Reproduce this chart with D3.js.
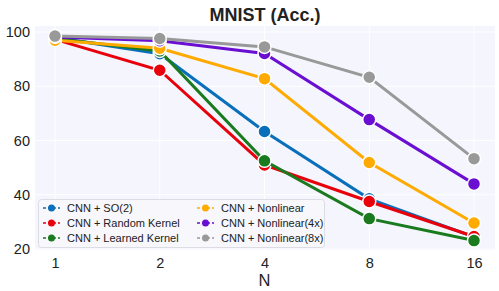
<!DOCTYPE html>
<html>
<head>
<meta charset="utf-8">
<script src="https://cdn.jsdelivr.net/npm/d3@7"></script>
<style>
body { margin: 0; background: #fff; }
svg { display: block; font-family: "Liberation Sans", Arial, sans-serif; }
</style>
</head>
<body>
<script>
const W = 499, H = 291
const nValues = [1, 2, 4, 8, 16]
const yTicks = [20, 40, 60, 80, 100]
const seriesNames = ["CNN + SO(2)", "CNN + Random Kernel", "CNN + Learned Kernel",
                     "CNN + Nonlinear", "CNN + Nonlinear(4x)", "CNN + Nonlinear(8x)"]
const so2 = [98.0, 92.0, 63.3, 38.5, 24.5]
const randomKernel = [97.3, 85.9, 51.0, 37.5, 24.6]
const learnedKernel = [97.6, 93.0, 52.5, 31.2, 23.1]
const nonlinear = [97.0, 94.0, 82.8, 51.9, 29.6]
const nonlinear4x = [98.2, 96.8, 92.1, 67.7, 44.0]
const nonlinear8x = [98.5, 97.6, 94.5, 83.3, 53.3]
const colors = ["#0a6fba", "#e8000b", "#1a7a1e", "#ffaa00", "#6a0fd2", "#999999"]

const allSeries = [so2, randomKernel, learnedKernel, nonlinear, nonlinear4x, nonlinear8x]

const plot = {left: 35, right: 495, top: 26, bottom: 250}

const svg = d3.select("body").append("svg")
    .attr("width", W)
    .attr("height", H)

const x = d3.scaleLog().base(2)
    .domain([1, 16])
    .range([55, 474])
const y = d3.scaleLinear()
    .domain([20, 100])
    .range([249, 32])

// background
svg.append("rect")
    .attr("x", plot.left)
    .attr("y", plot.top)
    .attr("width", plot.right - plot.left)
    .attr("height", plot.bottom - plot.top)
    .attr("fill", "#f4f5fd")

// grid
svg.append("g").selectAll("line").data(nValues).join("line")
    .attr("x1", d => x(d)).attr("x2", d => x(d))
    .attr("y1", plot.top).attr("y2", plot.bottom)
    .attr("stroke", "#fff").attr("stroke-width", 1)
svg.append("g").selectAll("line").data(yTicks).join("line")
    .attr("x1", plot.left).attr("x2", plot.right)
    .attr("y1", d => y(d)).attr("y2", d => y(d))
    .attr("stroke", "#fff").attr("stroke-width", 1)

// axes (labels only)
const xAxis = svg.append("g")
    .attr("transform", "translate(0," + plot.bottom + ")")
    .call(d3.axisBottom(x).tickValues(nValues).tickFormat(d3.format("d")).tickSize(0).tickPadding(8))
const yAxis = svg.append("g")
    .attr("transform", "translate(" + plot.left + ",0)")
    .call(d3.axisLeft(y).tickValues(yTicks).tickSize(0).tickPadding(5))
xAxis.select(".domain").remove()
yAxis.select(".domain").remove()
svg.selectAll(".tick text")
    .attr("font-family", "Liberation Sans, Arial, sans-serif")
    .attr("font-size", 14.5)
    .attr("fill", "#222")

svg.append("text")
    .attr("x", x(4))
    .attr("y", 286)
    .attr("text-anchor", "middle")
    .attr("font-size", 16.5)
    .attr("fill", "#222")
    .text("N")

svg.append("text")
    .attr("x", (plot.left + plot.right) / 2)
    .attr("y", 21)
    .attr("text-anchor", "middle")
    .attr("font-size", 18)
    .attr("font-weight", "bold")
    .attr("fill", "#222")
    .text("MNIST (Acc.)")

// series
const line = d3.line()
    .x((d, i) => x(nValues[i]))
    .y(d => y(d))

allSeries.forEach(function(vals, k) {
    const g = svg.append("g")
    g.append("path")
        .datum(vals)
        .attr("d", line)
        .attr("fill", "none")
        .attr("stroke", colors[k])
        .attr("stroke-width", 3)
    g.selectAll("circle").data(vals).join("circle")
        .attr("cx", (d, i) => x(nValues[i]))
        .attr("cy", d => y(d))
        .attr("r", 6.5)
        .attr("fill", colors[k])
        .attr("stroke", "#fff")
        .attr("stroke-width", 1.5)
})

// legend
const legend = svg.append("g")
legend.append("rect")
    .attr("x", 38.5).attr("y", 199.5)
    .attr("width", 286).attr("height", 48)
    .attr("rx", 3)
    .attr("fill", "#f7f7fb")
    .attr("fill-opacity", 0.85)
    .attr("stroke", "#dcdce4")
    .attr("stroke-width", 1)

seriesNames.forEach(function(name, k) {
    const col = Math.floor(k / 3), row = k % 3
    const lx = 43 + col * 154
    const ly = 208 + row * 15
    legend.append("line")
        .attr("x1", lx).attr("x2", lx + 17)
        .attr("y1", ly).attr("y2", ly)
        .attr("stroke", colors[k])
        .attr("stroke-width", 1.5)
        .attr("stroke-dasharray", "3,2")
    legend.append("circle")
        .attr("cx", lx + 8.5).attr("cy", ly)
        .attr("r", 3.5)
        .attr("fill", colors[k])
    legend.append("text")
        .attr("x", lx + 24)
        .attr("y", ly + 4)
        .attr("font-size", 11)
        .attr("fill", "#222")
        .text(name)
})
</script>
</body>
</html>
